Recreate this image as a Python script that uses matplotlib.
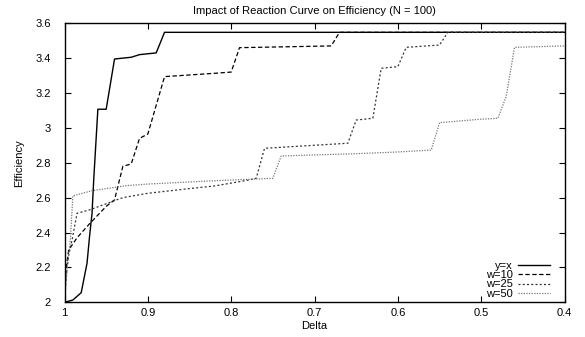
import matplotlib
matplotlib.use("Agg")
import matplotlib.pyplot as plt
from matplotlib.ticker import FuncFormatter

plt.rcParams['font.family'] = ['Liberation Sans', 'DejaVu Sans']

# Data
x_yx = [1.0, 0.99, 0.98, 0.973, 0.97, 0.967, 0.965, 0.96, 0.95, 0.94, 0.93, 0.92, 0.91, 0.90, 0.89, 0.88, 0.4]
y_yx = [2.0, 2.013, 2.055, 2.224, 2.376, 2.51, 2.70, 3.107, 3.107, 3.395, 3.40, 3.405, 3.42, 3.425, 3.43, 3.548, 3.548]

x_w10 = [1.0, 0.998, 0.995, 0.985, 0.97, 0.96, 0.95, 0.94, 0.93, 0.92, 0.91, 0.90, 0.88, 0.82, 0.80, 0.79, 0.68, 0.67, 0.4]
y_w10 = [2.0, 2.2, 2.30, 2.37, 2.45, 2.50, 2.55, 2.587, 2.78, 2.793, 2.94, 2.965, 3.294, 3.313, 3.32, 3.46, 3.47, 3.548, 3.548]

x_w25 = [1.0, 0.998, 0.995, 0.991, 0.985, 0.97, 0.95, 0.94, 0.93, 0.90, 0.85, 0.82, 0.78, 0.77, 0.76, 0.66, 0.65, 0.63, 0.62, 0.60, 0.59, 0.55, 0.54, 0.4]
y_w25 = [2.0, 2.15, 2.27, 2.357, 2.51, 2.53, 2.565, 2.583, 2.60, 2.625, 2.652, 2.667, 2.70, 2.711, 2.883, 2.912, 3.045, 3.055, 3.342, 3.351, 3.462, 3.475, 3.548, 3.548]

x_w50 = [1.0, 0.9966, 0.993, 0.99, 0.967, 0.927, 0.90, 0.85, 0.82, 0.75, 0.74, 0.70, 0.65, 0.60, 0.56, 0.55, 0.50, 0.48, 0.47, 0.46, 0.4]
y_w50 = [2.0, 2.21, 2.36, 2.61, 2.64, 2.668, 2.678, 2.69, 2.697, 2.711, 2.839, 2.845, 2.852, 2.862, 2.873, 3.03, 3.05, 3.055, 3.18, 3.462, 3.47]

labels = ['y=x', 'w=10', 'w=25', 'w=50']
x_ticks = [1.0, 0.9, 0.8, 0.7, 0.6, 0.5, 0.4]
y_ticks = [2.0, 2.2, 2.4, 2.6, 2.8, 3.0, 3.2, 3.4, 3.6]

FS = 8

fig = plt.figure(figsize=(5.85, 3.37), dpi=100)
ax = fig.add_axes([0.1103, 0.103, 0.965 - 0.1103, 0.931 - 0.103])

ax.plot(x_yx, y_yx, color='black', lw=1.0, linestyle='-', label=labels[0])
ax.plot(x_w10, y_w10, color='black', lw=0.9, linestyle=(0, (3.5, 2)), label=labels[1])
ax.plot(x_w25, y_w25, color='#333333', lw=0.9, linestyle=(0, (1.6, 1.8)), label=labels[2])
ax.plot(x_w50, y_w50, color='#777777', lw=0.9, linestyle=(0, (1, 1.1)), label=labels[3])

ax.set_xlim(1.0, 0.4)
ax.set_ylim(2.0, 3.6)
ax.set_xticks(x_ticks)
ax.set_yticks(y_ticks)
fmt = FuncFormatter(lambda v, p: ('%.1f' % v).rstrip('0').rstrip('.'))
ax.xaxis.set_major_formatter(fmt)
ax.yaxis.set_major_formatter(fmt)
ax.tick_params(direction='in', length=4, width=0.8, top=True, right=True, labelsize=FS, colors='black')
ax.tick_params(axis='x', pad=4)
ax.tick_params(axis='y', pad=10)
for s in ax.spines.values():
    s.set_linewidth(1.0)

ax.set_title('Impact of Reaction Curve on Efficiency (N = 100)', fontsize=FS, pad=7)
ax.set_xlabel('Delta', fontsize=FS, labelpad=2)
ax.set_ylabel('Efficiency', fontsize=FS, labelpad=8)

leg = ax.legend(loc='lower right', bbox_to_anchor=(0.971, 0.012), markerfirst=False, frameon=False,
                fontsize=FS, handlelength=2.9, labelspacing=-0.05, handletextpad=0.45,
                borderaxespad=0.0, borderpad=0.0)

fig.savefig('out.png', dpi=100)
